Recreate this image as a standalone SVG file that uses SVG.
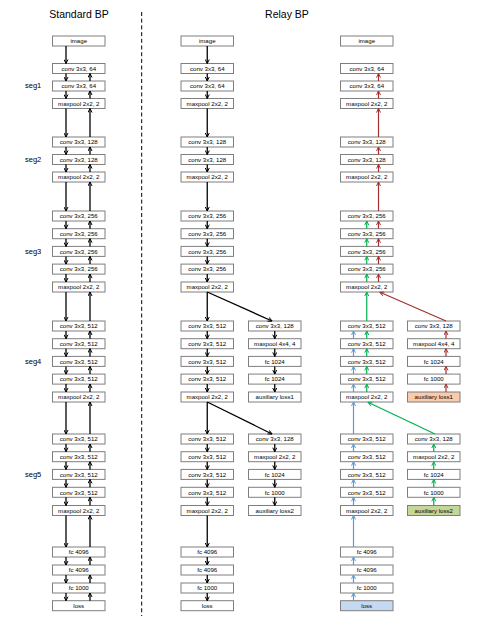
<svg xmlns="http://www.w3.org/2000/svg" width="487" height="627" viewBox="0 0 487 627">
<style>
.box{fill:#fff;stroke:#7f7f7f;stroke-width:1}
.t{font-family:'Liberation Sans',Arial,sans-serif;font-size:6.1px;text-anchor:middle;fill:#000}
.lbl{font-family:'Liberation Sans',Arial,sans-serif;font-size:7.5px;fill:#000}
.ttl{font-family:'Liberation Sans',Arial,sans-serif;font-size:10.5px;text-anchor:middle;fill:#000}
.k{stroke:#000;stroke-width:1.3;fill:none;marker-end:url(#ak)}
.r{stroke:#a5302d;stroke-width:1.2;fill:none;marker-end:url(#ar)}
.g{stroke:#00b050;stroke-width:1.2;fill:none;marker-end:url(#ag)}
.b{stroke:#5b9bd5;stroke-width:1.2;fill:none;marker-end:url(#ab)}
</style>
<defs>
<marker id="ak" viewBox="0 0 10 10" refX="9" refY="5" markerWidth="5" markerHeight="5" markerUnits="userSpaceOnUse" orient="auto"><path d="M1,1 L9,5 L1,9" fill="none" stroke="#000" stroke-width="2"/></marker>
<marker id="ar" viewBox="0 0 10 10" refX="9" refY="5" markerWidth="5" markerHeight="5" markerUnits="userSpaceOnUse" orient="auto"><path d="M1,1 L9,5 L1,9" fill="none" stroke="#a5302d" stroke-width="2"/></marker>
<marker id="ag" viewBox="0 0 10 10" refX="9" refY="5" markerWidth="5" markerHeight="5" markerUnits="userSpaceOnUse" orient="auto"><path d="M1,1 L9,5 L1,9" fill="none" stroke="#00b050" stroke-width="2"/></marker>
<marker id="ab" viewBox="0 0 10 10" refX="9" refY="5" markerWidth="5" markerHeight="5" markerUnits="userSpaceOnUse" orient="auto"><path d="M1,1 L9,5 L1,9" fill="none" stroke="#5b9bd5" stroke-width="2"/></marker>
</defs>
<rect width="487" height="627" fill="#fff"/>
<text class="ttl" x="79" y="17.5">Standard BP</text>
<text class="ttl" x="287" y="17.5">Relay BP</text>
<line x1="141.7" y1="12" x2="141.7" y2="616" stroke="#000" stroke-width="1" stroke-dasharray="4,2.7"/>
<g id="seg-labels">
<text class="lbl" x="25" y="88">seg1</text>
<text class="lbl" x="25" y="162">seg2</text>
<text class="lbl" x="25" y="254">seg3</text>
<text class="lbl" x="25" y="364">seg4</text>
<text class="lbl" x="25" y="477">seg5</text>
</g>

<!-- Standard BP column -->
<g id="s0"><rect class="box" x="52.5" y="36" width="52.5" height="10"/><text class="t" x="78.75" y="43.2">image</text></g>
<g id="s1"><rect class="box" x="52.5" y="63.5" width="52.5" height="10"/><text class="t" x="78.75" y="70.7">conv 3x3, 64</text></g>
<g id="s2"><rect class="box" x="52.5" y="81" width="52.5" height="10"/><text class="t" x="78.75" y="88.2">conv 3x3, 64</text></g>
<g id="s3"><rect class="box" x="52.5" y="98.5" width="52.5" height="10"/><text class="t" x="78.75" y="105.7">maxpool 2x2, 2</text></g>
<g id="s4"><rect class="box" x="52.5" y="137" width="52.5" height="10"/><text class="t" x="78.75" y="144.2">conv 3x3, 128</text></g>
<g id="s5"><rect class="box" x="52.5" y="154.5" width="52.5" height="10"/><text class="t" x="78.75" y="161.7">conv 3x3, 128</text></g>
<g id="s6"><rect class="box" x="52.5" y="172" width="52.5" height="10"/><text class="t" x="78.75" y="179.2">maxpool 2x2, 2</text></g>
<g id="s7"><rect class="box" x="52.5" y="211" width="52.5" height="10"/><text class="t" x="78.75" y="218.2">conv 3x3, 256</text></g>
<g id="s8"><rect class="box" x="52.5" y="228.7" width="52.5" height="10"/><text class="t" x="78.75" y="235.9">conv 3x3, 256</text></g>
<g id="s9"><rect class="box" x="52.5" y="246.4" width="52.5" height="10"/><text class="t" x="78.75" y="253.6">conv 3x3, 256</text></g>
<g id="s10"><rect class="box" x="52.5" y="264.1" width="52.5" height="10"/><text class="t" x="78.75" y="271.3">conv 3x3, 256</text></g>
<g id="s11"><rect class="box" x="52.5" y="282" width="52.5" height="10"/><text class="t" x="78.75" y="289.2">maxpool 2x2, 2</text></g>
<g id="s12"><rect class="box" x="52.5" y="321" width="52.5" height="10"/><text class="t" x="78.75" y="328.2">conv 3x3, 512</text></g>
<g id="s13"><rect class="box" x="52.5" y="338.7" width="52.5" height="10"/><text class="t" x="78.75" y="345.9">conv 3x3, 512</text></g>
<g id="s14"><rect class="box" x="52.5" y="356.4" width="52.5" height="10"/><text class="t" x="78.75" y="363.6">conv 3x3, 512</text></g>
<g id="s15"><rect class="box" x="52.5" y="374.1" width="52.5" height="10"/><text class="t" x="78.75" y="381.3">conv 3x3, 512</text></g>
<g id="s16"><rect class="box" x="52.5" y="392" width="52.5" height="10"/><text class="t" x="78.75" y="399.2">maxpool 2x2, 2</text></g>
<g id="s17"><rect class="box" x="52.5" y="434" width="52.5" height="10"/><text class="t" x="78.75" y="441.2">conv 3x3, 512</text></g>
<g id="s18"><rect class="box" x="52.5" y="451.7" width="52.5" height="10"/><text class="t" x="78.75" y="458.9">conv 3x3, 512</text></g>
<g id="s19"><rect class="box" x="52.5" y="469.4" width="52.5" height="10"/><text class="t" x="78.75" y="476.6">conv 3x3, 512</text></g>
<g id="s20"><rect class="box" x="52.5" y="487.3" width="52.5" height="10"/><text class="t" x="78.75" y="494.5">conv 3x3, 512</text></g>
<g id="s21"><rect class="box" x="52.5" y="505.5" width="52.5" height="10"/><text class="t" x="78.75" y="512.7">maxpool 2x2, 2</text></g>
<g id="s22"><rect class="box" x="52.5" y="547" width="52.5" height="10"/><text class="t" x="78.75" y="554.2">fc 4096</text></g>
<g id="s23"><rect class="box" x="52.5" y="565" width="52.5" height="10"/><text class="t" x="78.75" y="572.2">fc 4096</text></g>
<g id="s24"><rect class="box" x="52.5" y="583" width="52.5" height="10"/><text class="t" x="78.75" y="590.2">fc 1000</text></g>
<g id="s25"><rect class="box" x="52.5" y="600.7" width="52.5" height="10"/><text class="t" x="78.75" y="607.9">loss</text></g>

<!-- Relay BP forward column -->
<g id="m0"><rect class="box" x="181" y="36" width="52.5" height="10"/><text class="t" x="207.25" y="43.2">image</text></g>
<g id="m1"><rect class="box" x="181" y="63.5" width="52.5" height="10"/><text class="t" x="207.25" y="70.7">conv 3x3, 64</text></g>
<g id="m2"><rect class="box" x="181" y="81" width="52.5" height="10"/><text class="t" x="207.25" y="88.2">conv 3x3, 64</text></g>
<g id="m3"><rect class="box" x="181" y="98.5" width="52.5" height="10"/><text class="t" x="207.25" y="105.7">maxpool 2x2, 2</text></g>
<g id="m4"><rect class="box" x="181" y="137" width="52.5" height="10"/><text class="t" x="207.25" y="144.2">conv 3x3, 128</text></g>
<g id="m5"><rect class="box" x="181" y="154.5" width="52.5" height="10"/><text class="t" x="207.25" y="161.7">conv 3x3, 128</text></g>
<g id="m6"><rect class="box" x="181" y="172" width="52.5" height="10"/><text class="t" x="207.25" y="179.2">maxpool 2x2, 2</text></g>
<g id="m7"><rect class="box" x="181" y="211" width="52.5" height="10"/><text class="t" x="207.25" y="218.2">conv 3x3, 256</text></g>
<g id="m8"><rect class="box" x="181" y="228.7" width="52.5" height="10"/><text class="t" x="207.25" y="235.9">conv 3x3, 256</text></g>
<g id="m9"><rect class="box" x="181" y="246.4" width="52.5" height="10"/><text class="t" x="207.25" y="253.6">conv 3x3, 256</text></g>
<g id="m10"><rect class="box" x="181" y="264.1" width="52.5" height="10"/><text class="t" x="207.25" y="271.3">conv 3x3, 256</text></g>
<g id="m11"><rect class="box" x="181" y="282" width="52.5" height="10"/><text class="t" x="207.25" y="289.2">maxpool 2x2, 2</text></g>
<g id="m12"><rect class="box" x="181" y="321" width="52.5" height="10"/><text class="t" x="207.25" y="328.2">conv 3x3, 512</text></g>
<g id="m13"><rect class="box" x="181" y="338.7" width="52.5" height="10"/><text class="t" x="207.25" y="345.9">conv 3x3, 512</text></g>
<g id="m14"><rect class="box" x="181" y="356.4" width="52.5" height="10"/><text class="t" x="207.25" y="363.6">conv 3x3, 512</text></g>
<g id="m15"><rect class="box" x="181" y="374.1" width="52.5" height="10"/><text class="t" x="207.25" y="381.3">conv 3x3, 512</text></g>
<g id="m16"><rect class="box" x="181" y="392" width="52.5" height="10"/><text class="t" x="207.25" y="399.2">maxpool 2x2, 2</text></g>
<g id="m17"><rect class="box" x="181" y="434" width="52.5" height="10"/><text class="t" x="207.25" y="441.2">conv 3x3, 512</text></g>
<g id="m18"><rect class="box" x="181" y="451.7" width="52.5" height="10"/><text class="t" x="207.25" y="458.9">conv 3x3, 512</text></g>
<g id="m19"><rect class="box" x="181" y="469.4" width="52.5" height="10"/><text class="t" x="207.25" y="476.6">conv 3x3, 512</text></g>
<g id="m20"><rect class="box" x="181" y="487.3" width="52.5" height="10"/><text class="t" x="207.25" y="494.5">conv 3x3, 512</text></g>
<g id="m21"><rect class="box" x="181" y="505.5" width="52.5" height="10"/><text class="t" x="207.25" y="512.7">maxpool 2x2, 2</text></g>
<g id="m22"><rect class="box" x="181" y="547" width="52.5" height="10"/><text class="t" x="207.25" y="554.2">fc 4096</text></g>
<g id="m23"><rect class="box" x="181" y="565" width="52.5" height="10"/><text class="t" x="207.25" y="572.2">fc 4096</text></g>
<g id="m24"><rect class="box" x="181" y="583" width="52.5" height="10"/><text class="t" x="207.25" y="590.2">fc 1000</text></g>
<g id="m25"><rect class="box" x="181" y="600.7" width="52.5" height="10"/><text class="t" x="207.25" y="607.9">loss</text></g>

<!-- Relay BP forward aux -->
<g id="a12"><rect class="box" x="248.5" y="321" width="52.5" height="10"/><text class="t" x="274.75" y="328.2">conv 3x3, 128</text></g>
<g id="a13"><rect class="box" x="248.5" y="338.7" width="52.5" height="10"/><text class="t" x="274.75" y="345.9">maxpool 4x4, 4</text></g>
<g id="a14"><rect class="box" x="248.5" y="356.4" width="52.5" height="10"/><text class="t" x="274.75" y="363.6">fc 1024</text></g>
<g id="a15"><rect class="box" x="248.5" y="374.1" width="52.5" height="10"/><text class="t" x="274.75" y="381.3">fc 1024</text></g>
<g id="a16"><rect class="box" x="248.5" y="392" width="52.5" height="10"/><text class="t" x="274.75" y="399.2">auxiliary loss1</text></g>
<g id="a17"><rect class="box" x="248.5" y="434" width="52.5" height="10"/><text class="t" x="274.75" y="441.2">conv 3x3, 128</text></g>
<g id="a18"><rect class="box" x="248.5" y="451.7" width="52.5" height="10"/><text class="t" x="274.75" y="458.9">maxpool 2x2, 2</text></g>
<g id="a19"><rect class="box" x="248.5" y="469.4" width="52.5" height="10"/><text class="t" x="274.75" y="476.6">fc 1024</text></g>
<g id="a20"><rect class="box" x="248.5" y="487.3" width="52.5" height="10"/><text class="t" x="274.75" y="494.5">fc 1000</text></g>
<g id="a21"><rect class="box" x="248.5" y="505.5" width="52.5" height="10"/><text class="t" x="274.75" y="512.7">auxiliary loss2</text></g>

<!-- Relay BP backward column -->
<g id="r0"><rect class="box" x="340.5" y="36" width="52.5" height="10"/><text class="t" x="366.75" y="43.2">image</text></g>
<g id="r1"><rect class="box" x="340.5" y="63.5" width="52.5" height="10"/><text class="t" x="366.75" y="70.7">conv 3x3, 64</text></g>
<g id="r2"><rect class="box" x="340.5" y="81" width="52.5" height="10"/><text class="t" x="366.75" y="88.2">conv 3x3, 64</text></g>
<g id="r3"><rect class="box" x="340.5" y="98.5" width="52.5" height="10"/><text class="t" x="366.75" y="105.7">maxpool 2x2, 2</text></g>
<g id="r4"><rect class="box" x="340.5" y="137" width="52.5" height="10"/><text class="t" x="366.75" y="144.2">conv 3x3, 128</text></g>
<g id="r5"><rect class="box" x="340.5" y="154.5" width="52.5" height="10"/><text class="t" x="366.75" y="161.7">conv 3x3, 128</text></g>
<g id="r6"><rect class="box" x="340.5" y="172" width="52.5" height="10"/><text class="t" x="366.75" y="179.2">maxpool 2x2, 2</text></g>
<g id="r7"><rect class="box" x="340.5" y="211" width="52.5" height="10"/><text class="t" x="366.75" y="218.2">conv 3x3, 256</text></g>
<g id="r8"><rect class="box" x="340.5" y="228.7" width="52.5" height="10"/><text class="t" x="366.75" y="235.9">conv 3x3, 256</text></g>
<g id="r9"><rect class="box" x="340.5" y="246.4" width="52.5" height="10"/><text class="t" x="366.75" y="253.6">conv 3x3, 256</text></g>
<g id="r10"><rect class="box" x="340.5" y="264.1" width="52.5" height="10"/><text class="t" x="366.75" y="271.3">conv 3x3, 256</text></g>
<g id="r11"><rect class="box" x="340.5" y="282" width="52.5" height="10"/><text class="t" x="366.75" y="289.2">maxpool 2x2, 2</text></g>
<g id="r12"><rect class="box" x="340.5" y="321" width="52.5" height="10"/><text class="t" x="366.75" y="328.2">conv 3x3, 512</text></g>
<g id="r13"><rect class="box" x="340.5" y="338.7" width="52.5" height="10"/><text class="t" x="366.75" y="345.9">conv 3x3, 512</text></g>
<g id="r14"><rect class="box" x="340.5" y="356.4" width="52.5" height="10"/><text class="t" x="366.75" y="363.6">conv 3x3, 512</text></g>
<g id="r15"><rect class="box" x="340.5" y="374.1" width="52.5" height="10"/><text class="t" x="366.75" y="381.3">conv 3x3, 512</text></g>
<g id="r16"><rect class="box" x="340.5" y="392" width="52.5" height="10"/><text class="t" x="366.75" y="399.2">maxpool 2x2, 2</text></g>
<g id="r17"><rect class="box" x="340.5" y="434" width="52.5" height="10"/><text class="t" x="366.75" y="441.2">conv 3x3, 512</text></g>
<g id="r18"><rect class="box" x="340.5" y="451.7" width="52.5" height="10"/><text class="t" x="366.75" y="458.9">conv 3x3, 512</text></g>
<g id="r19"><rect class="box" x="340.5" y="469.4" width="52.5" height="10"/><text class="t" x="366.75" y="476.6">conv 3x3, 512</text></g>
<g id="r20"><rect class="box" x="340.5" y="487.3" width="52.5" height="10"/><text class="t" x="366.75" y="494.5">conv 3x3, 512</text></g>
<g id="r21"><rect class="box" x="340.5" y="505.5" width="52.5" height="10"/><text class="t" x="366.75" y="512.7">maxpool 2x2, 2</text></g>
<g id="r22"><rect class="box" x="340.5" y="547" width="52.5" height="10"/><text class="t" x="366.75" y="554.2">fc 4096</text></g>
<g id="r23"><rect class="box" x="340.5" y="565" width="52.5" height="10"/><text class="t" x="366.75" y="572.2">fc 4096</text></g>
<g id="r24"><rect class="box" x="340.5" y="583" width="52.5" height="10"/><text class="t" x="366.75" y="590.2">fc 1000</text></g>
<g id="r25"><rect class="box" x="340.5" y="600.7" width="52.5" height="10" style="fill:#c5d9f1"/><text class="t" x="366.75" y="607.9">loss</text></g>

<!-- Relay BP backward aux -->
<g id="q12"><rect class="box" x="407.5" y="321" width="52.5" height="10"/><text class="t" x="433.75" y="328.2">conv 3x3, 128</text></g>
<g id="q13"><rect class="box" x="407.5" y="338.7" width="52.5" height="10"/><text class="t" x="433.75" y="345.9">maxpool 4x4, 4</text></g>
<g id="q14"><rect class="box" x="407.5" y="356.4" width="52.5" height="10"/><text class="t" x="433.75" y="363.6">fc 1024</text></g>
<g id="q15"><rect class="box" x="407.5" y="374.1" width="52.5" height="10"/><text class="t" x="433.75" y="381.3">fc 1000</text></g>
<g id="q16"><rect class="box" x="407.5" y="392" width="52.5" height="10" style="fill:#f8cbad"/><text class="t" x="433.75" y="399.2">auxiliary loss1</text></g>
<g id="q17"><rect class="box" x="407.5" y="434" width="52.5" height="10"/><text class="t" x="433.75" y="441.2">conv 3x3, 128</text></g>
<g id="q18"><rect class="box" x="407.5" y="451.7" width="52.5" height="10"/><text class="t" x="433.75" y="458.9">maxpool 2x2, 2</text></g>
<g id="q19"><rect class="box" x="407.5" y="469.4" width="52.5" height="10"/><text class="t" x="433.75" y="476.6">fc 1024</text></g>
<g id="q20"><rect class="box" x="407.5" y="487.3" width="52.5" height="10"/><text class="t" x="433.75" y="494.5">fc 1000</text></g>
<g id="q21"><rect class="box" x="407.5" y="505.5" width="52.5" height="10" style="fill:#c4d79b"/><text class="t" x="433.75" y="512.7">auxiliary loss2</text></g>

<g id="connectors">
<!-- Standard BP down -->
<path class="k" d="M66,46V63.5"/><path class="k" d="M66,73.5V81"/><path class="k" d="M66,91V98.5"/><path class="k" d="M66,108.5V137"/><path class="k" d="M66,147V154.5"/><path class="k" d="M66,164.5V172"/><path class="k" d="M66,182V211"/><path class="k" d="M66,221V228.7"/><path class="k" d="M66,238.7V246.4"/><path class="k" d="M66,256.4V264.1"/><path class="k" d="M66,274.1V282"/><path class="k" d="M66,292V321"/><path class="k" d="M66,331V338.7"/><path class="k" d="M66,348.7V356.4"/><path class="k" d="M66,366.4V374.1"/><path class="k" d="M66,384.1V392"/><path class="k" d="M66,402V434"/><path class="k" d="M66,444V451.7"/><path class="k" d="M66,461.7V469.4"/><path class="k" d="M66,479.4V487.3"/><path class="k" d="M66,497.3V505.5"/><path class="k" d="M66,515.5V547"/><path class="k" d="M66,557V565"/><path class="k" d="M66,575V583"/><path class="k" d="M66,593V600.7"/>
<!-- Standard BP up -->
<path class="k" d="M90,81V73.5"/><path class="k" d="M90,98.5V91"/><path class="k" d="M90,137V108.5"/><path class="k" d="M90,154.5V147"/><path class="k" d="M90,172V164.5"/><path class="k" d="M90,211V182"/><path class="k" d="M90,228.7V221"/><path class="k" d="M90,246.4V238.7"/><path class="k" d="M90,264.1V256.4"/><path class="k" d="M90,282V274.1"/><path class="k" d="M90,321V292"/><path class="k" d="M90,338.7V331"/><path class="k" d="M90,356.4V348.7"/><path class="k" d="M90,374.1V366.4"/><path class="k" d="M90,392V384.1"/><path class="k" d="M90,434V402"/><path class="k" d="M90,451.7V444"/><path class="k" d="M90,469.4V461.7"/><path class="k" d="M90,487.3V479.4"/><path class="k" d="M90,505.5V497.3"/><path class="k" d="M90,547V515.5"/><path class="k" d="M90,565V557"/><path class="k" d="M90,583V575"/><path class="k" d="M90,600.7V593"/>
<!-- Relay forward -->
<path class="k" d="M207.25,46V63.5"/><path class="k" d="M207.25,73.5V81"/><path class="k" d="M207.25,91V98.5"/><path class="k" d="M207.25,108.5V137"/><path class="k" d="M207.25,147V154.5"/><path class="k" d="M207.25,164.5V172"/><path class="k" d="M207.25,182V211"/><path class="k" d="M207.25,221V228.7"/><path class="k" d="M207.25,238.7V246.4"/><path class="k" d="M207.25,256.4V264.1"/><path class="k" d="M207.25,274.1V282"/><path class="k" d="M207.25,292V321"/><path class="k" d="M207.25,331V338.7"/><path class="k" d="M207.25,348.7V356.4"/><path class="k" d="M207.25,366.4V374.1"/><path class="k" d="M207.25,384.1V392"/><path class="k" d="M207.25,402V434"/><path class="k" d="M207.25,444V451.7"/><path class="k" d="M207.25,461.7V469.4"/><path class="k" d="M207.25,479.4V487.3"/><path class="k" d="M207.25,497.3V505.5"/><path class="k" d="M207.25,515.5V547"/><path class="k" d="M207.25,557V565"/><path class="k" d="M207.25,575V583"/><path class="k" d="M207.25,593V600.7"/>
<path class="k" d="M207.25,292L272,321"/><path class="k" d="M207.25,402L272,434"/>
<path class="k" d="M274.75,331V338.7"/><path class="k" d="M274.75,348.7V356.4"/><path class="k" d="M274.75,366.4V374.1"/><path class="k" d="M274.75,384.1V392"/>
<path class="k" d="M274.75,444V451.7"/><path class="k" d="M274.75,461.7V469.4"/><path class="k" d="M274.75,479.4V487.3"/><path class="k" d="M274.75,497.3V505.5"/>
<!-- Relay backward red -->
<path class="r" d="M378.5,81V73.5"/><path class="r" d="M378.5,98.5V91"/><path class="r" d="M378.5,137V108.5"/><path class="r" d="M378.5,154.5V147"/><path class="r" d="M378.5,172V164.5"/><path class="r" d="M378.5,211V182"/><path class="r" d="M378.5,228.7V221"/><path class="r" d="M378.5,246.4V238.7"/><path class="r" d="M378.5,264.1V256.4"/><path class="r" d="M378.5,282V274.1"/>
<path class="r" d="M446,321L380,292.3"/>
<path class="r" d="M446,338.7V331"/><path class="r" d="M446,356.4V348.7"/><path class="r" d="M446,374.1V366.4"/><path class="r" d="M446,392V384.1"/>
<!-- Relay backward green -->
<path class="g" d="M366.75,228.7V221"/><path class="g" d="M366.75,246.4V238.7"/><path class="g" d="M366.75,264.1V256.4"/><path class="g" d="M366.75,282V274.1"/><path class="g" d="M366.75,321V292"/><path class="g" d="M366.75,338.7V331"/><path class="g" d="M366.75,356.4V348.7"/><path class="g" d="M366.75,374.1V366.4"/><path class="g" d="M366.75,392V384.1"/>
<path class="g" d="M435,434L368,402.3"/>
<path class="g" d="M433.75,451.7V444"/><path class="g" d="M433.75,469.4V461.7"/><path class="g" d="M433.75,487.3V479.4"/><path class="g" d="M433.75,505.5V497.3"/>
<!-- Relay backward blue -->
<path class="b" d="M353.5,338.7V331"/><path class="b" d="M353.5,356.4V348.7"/><path class="b" d="M353.5,374.1V366.4"/><path class="b" d="M353.5,392V384.1"/><path class="b" d="M353.5,434V402"/><path class="b" d="M353.5,451.7V444"/><path class="b" d="M353.5,469.4V461.7"/><path class="b" d="M353.5,487.3V479.4"/><path class="b" d="M353.5,505.5V497.3"/><path class="b" d="M353.5,547V515.5"/><path class="b" d="M353.5,565V557"/><path class="b" d="M353.5,583V575"/><path class="b" d="M353.5,600.7V593"/>
</g>
</svg>
